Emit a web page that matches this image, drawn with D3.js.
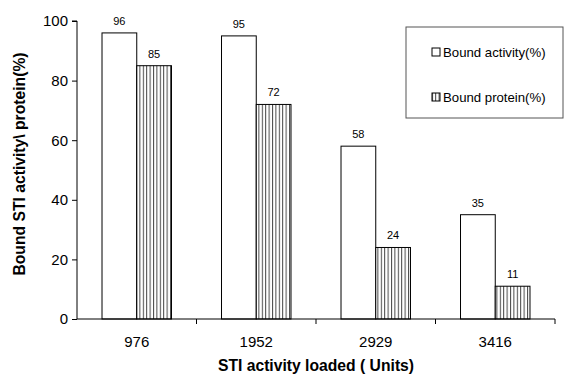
<!DOCTYPE html>
<html><head><meta charset="utf-8">
<script src="https://cdn.jsdelivr.net/npm/d3@7"></script>
<style>body{margin:0;background:#fff}svg{display:block;font-family:"Liberation Sans",Arial,sans-serif}</style>
</head><body>
<script>
const categories = ["976","1952","2929","3416"];
const boundActivity = [96,95,58,35];
const boundProtein = [85,72,24,11];
const seriesNames = ["Bound activity(%)","Bound protein(%)"];
const yTicks = [0,20,40,60,80,100];

const W=566,H=378;
const m={l:77,r:11,t:21,b:59};
const svg=d3.select("body").append("svg").attr("width",W).attr("height",H);
const defs=svg.append("defs");
const pat=defs.append("pattern").attr("id","vh").attr("patternUnits","userSpaceOnUse").attr("width",3.4).attr("height",10);
pat.append("rect").attr("width",3.4).attr("height",10).attr("fill","#fff");
pat.append("line").attr("x1",0.5).attr("x2",0.5).attr("y1",0).attr("y2",10).attr("stroke","#444").attr("stroke-width",1);

const x=d3.scaleBand().domain(categories).range([m.l,W-m.r]);
const x1=d3.scaleBand().domain([0,1]).range([0,x.bandwidth()]).paddingOuter(0.72).paddingInner(0);
const y=d3.scaleLinear().domain([0,100]).range([H-m.b,m.t]);

const g=svg.append("g");
const series=[boundActivity,boundProtein];
series.forEach((vals,si)=>{
  g.selectAll(null).data(vals).join("rect")
    .attr("x",(d,i)=>x(categories[i])+x1(si))
    .attr("y",d=>y(d))
    .attr("width",x1.bandwidth())
    .attr("height",d=>y(0)-y(d))
    .attr("fill",si===0?"#fff":"url(#vh)")
    .attr("stroke","#000").attr("stroke-width",1);
  g.selectAll(null).data(vals).join("text")
    .attr("x",(d,i)=>x(categories[i])+x1(si)+x1.bandwidth()/2)
    .attr("y",d=>y(d)-8)
    .attr("text-anchor","middle").attr("font-size",11).text(d=>d);
});

// y axis
const ya=svg.append("g").attr("transform",`translate(${m.l},0)`)
  .call(d3.axisLeft(y).tickValues(yTicks).tickSize(5).tickPadding(4));
ya.selectAll("text").attr("font-size",15).attr("fill","#000").attr("font-family","Liberation Sans, Arial, sans-serif");
ya.selectAll("line,path").attr("stroke","#000");
ya.select(".domain").attr("d",`M-5,${y(100)}H0V${y(0)}`);

// x axis
const xa=svg.append("g").attr("transform",`translate(0,${y(0)})`);
xa.append("line").attr("x1",m.l).attr("x2",W-m.r).attr("stroke","#000");
xa.selectAll(null).data(categories).join("line")
  .attr("x1",d=>x(d)+x.bandwidth()).attr("x2",d=>x(d)+x.bandwidth())
  .attr("y1",0).attr("y2",5).attr("stroke","#000");
xa.selectAll(null).data(categories).join("text")
  .attr("x",d=>x(d)+x.bandwidth()/2).attr("y",28)
  .attr("text-anchor","middle").attr("font-size",15).text(d=>d);

svg.append("text").attr("x",(m.l+W-m.r)/2).attr("y",371).attr("text-anchor","middle")
  .attr("font-size",15.7).attr("font-weight","bold").text("STI activity loaded ( Units)");
svg.append("text").attr("transform",`translate(25,164) rotate(-90)`).attr("text-anchor","middle")
  .attr("font-size",15.7).attr("font-weight","bold").text("Bound STI activity\\ protein(%)");

// legend
const lg=svg.append("g");
lg.append("rect").attr("x",406).attr("y",27).attr("width",157).attr("height",91).attr("fill","#fff").attr("stroke","#555");
seriesNames.forEach((n,i)=>{
  const yy=i===0?52:97;
  lg.append("rect").attr("x",432).attr("y",yy-4).attr("width",8).attr("height",8)
    .attr("fill",i===0?"#fff":"url(#vh)").attr("stroke","#000");
  lg.append("text").attr("x",443).attr("y",yy+4.5).attr("font-size",13.2).text(n);
});
</script>
</body></html>
